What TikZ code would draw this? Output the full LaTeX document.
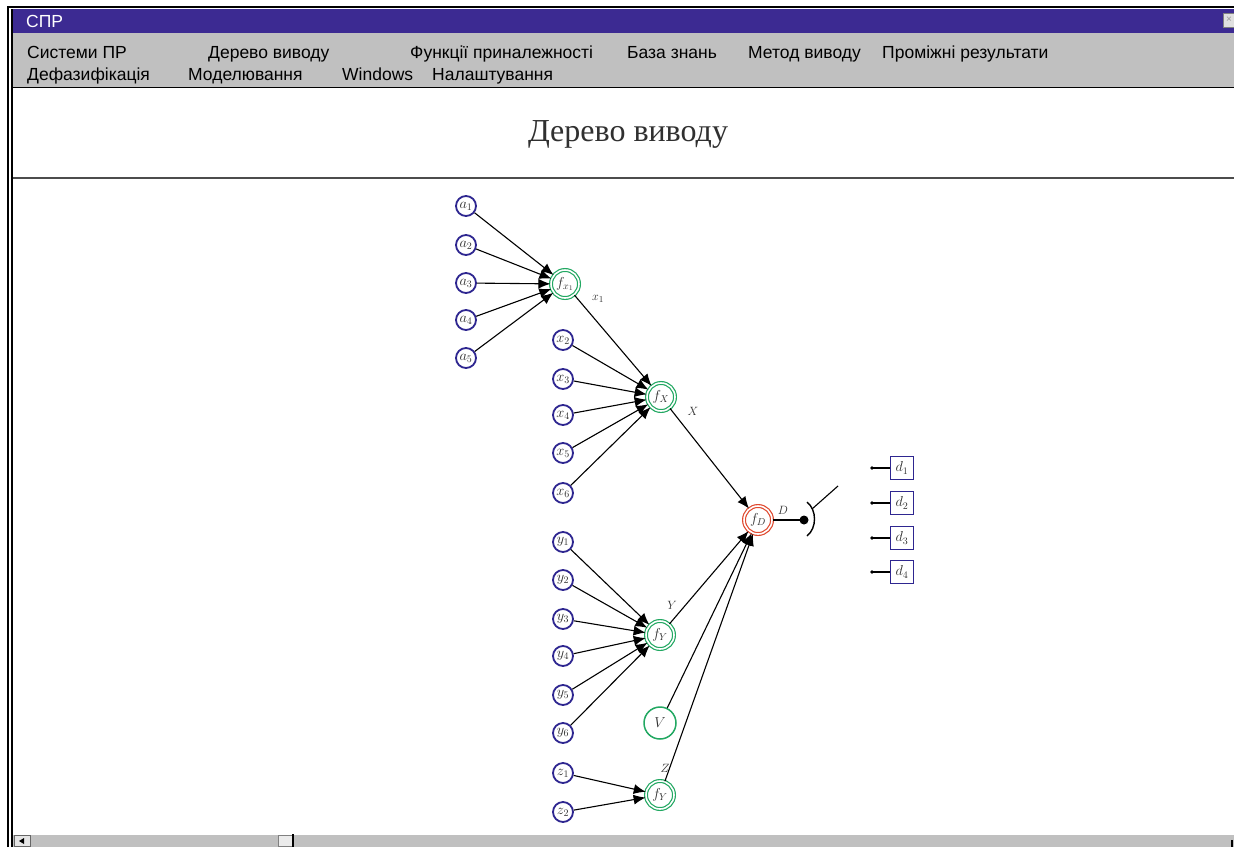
\documentclass[tikz,border=0pt]{standalone}
\usepackage{fontspec}
\setmainfont{Liberation Serif}
\newfontfamily\uisans{Liberation Sans}
\usetikzlibrary{arrows.meta}
\definecolor{nblue}{HTML}{2E2690}
\definecolor{ngreen}{HTML}{22A862}
\definecolor{nred}{HTML}{E04A30}
\definecolor{tbar}{HTML}{3C2A92}
\definecolor{mgray}{HTML}{C0C0C0}
\definecolor{ltext}{HTML}{303030}
\tikzset{
  inp/.style={circle, draw=nblue, line width=1.8pt, minimum size=20pt, inner sep=0pt, text=ltext, font=\fontsize{14}{14}\selectfont},
  fgreen/.style={circle, draw=ngreen, double=white, double distance=1.6pt, line width=1.2pt, minimum size=28pt, inner sep=0pt, text=ltext, font=\fontsize{14}{14}\selectfont},
  fred/.style={fgreen, draw=nred},
  single/.style={circle, draw=ngreen, line width=1.5pt, minimum size=32pt, inner sep=0pt, text=ltext, font=\fontsize{14}{14}\selectfont},
  dbox/.style={draw=nblue, line width=1.8pt, minimum size=23pt, inner sep=0pt, text=ltext, font=\fontsize{14}{14}\selectfont},
  arr/.style={-{Latex[length=12pt,width=10pt]}, line width=1.1pt},
  lbl/.style={font=\fontsize{13}{13}\selectfont, inner sep=0pt, text=ltext},
  menu/.style={font=\uisans\fontsize{17.5}{17.5}\selectfont, anchor=base west, inner sep=0pt},
}
\begin{document}
\begin{tikzpicture}[x=1pt,y=-1pt]
\useasboundingbox (0,0) rectangle (1234,847);
\fill[white] (0,0) rectangle (1234,847);
% window chrome
\fill[tbar] (11,9) rectangle (1234,33);
\fill[mgray] (11,33) rectangle (1234,87);
\draw[line width=1.6pt] (11,87.5) -- (1234,87.5);
\draw[line width=1.2pt,black!70] (11,178) -- (1234,178);
\draw[line width=1.2pt] (8,847) -- (8,7) -- (1234,7);
\draw[line width=1.2pt] (12,847) -- (12,9);
\node[anchor=base west, inner sep=0pt, text=white, font=\uisans\fontsize{17.5}{17.5}\selectfont] (ttl) at (26,27) {СПР};
\node[draw=black!50, fill=black!12, minimum width=12pt, minimum height=14pt, inner sep=0pt, font=\uisans\fontsize{10}{10}\selectfont, text=black!40] (cls) at (1229,20) {×};
% menu
\node[menu] (m1) at (27,58) {Системи ПР};
\node[menu] (m2) at (208,58) {Дерево виводу};
\node[menu] (m3) at (410,58) {Функції приналежності};
\node[menu] (m4) at (627,58) {База знань};
\node[menu] (m5) at (748,58) {Метод виводу};
\node[menu] (m6) at (882,58) {Проміжні результати};
\node[menu] (m7) at (27,80) {Дефазифікація};
\node[menu] (m8) at (188,80) {Моделювання};
\node[menu] (m9) at (342,80) {Windows};
\node[menu] (m10) at (432,80) {Налаштування};
% header title
\node[font=\fontsize{32}{32}\selectfont, text=ltext] (head) at (628,134) {Дерево виводу};
% scrollbar
\fill[mgray] (13,834) rectangle (1234,847);
\draw[white, line width=1pt] (13,834) -- (1234,834);
\node[draw=black!60, fill=black!10, minimum width=16pt, minimum height=11pt, inner sep=0pt] (sbl) at (22,841) {};
\fill[black] (19,841) -- (24,838) -- (24,844) -- cycle;
\node[draw=black!50, fill=black!8, minimum width=14pt, minimum height=11pt, inner sep=0pt] (thumb) at (285,841) {};
\draw[line width=1.2pt] (293,834) -- (293,847);
\draw[line width=1.2pt] (1232,840) -- (1232,847);
% input nodes a
\node[inp] (a1) at (466,206) {$a_1$};
\node[inp] (a2) at (466,245) {$a_2$};
\node[inp] (a3) at (466,283) {$a_3$};
\node[inp] (a4) at (466,320) {$a_4$};
\node[inp] (a5) at (466,358) {$a_5$};
\node[fgreen] (fx1) at (565,284) {$f_{x_1}$};
\foreach \n in {a1,a2,a3,a4,a5} \draw[arr] (\n) -- (fx1);
% x nodes
\node[inp] (x2) at (563,340) {$x_2$};
\node[inp] (x3) at (563,379) {$x_3$};
\node[inp] (x4) at (563,415) {$x_4$};
\node[inp] (x5) at (563,453) {$x_5$};
\node[inp] (x6) at (563,493) {$x_6$};
\node[fgreen] (fX) at (661,397) {$f_X$};
\draw[arr] (fx1) -- (fX);
\foreach \n in {x2,x3,x4,x5,x6} \draw[arr] (\n) -- (fX);
\node[lbl] (lx1) at (598,299) {$x_1$};
\node[lbl] (lX) at (693,411) {$X$};
% fD
\node[fred] (fD) at (758,520) {$f_D$};
\draw[arr] (fX) -- (fD);
\node[lbl] (lD) at (783,510) {$D$};
% y nodes
\node[inp] (y1) at (563,542) {$y_1$};
\node[inp] (y2) at (563,580) {$y_2$};
\node[inp] (y3) at (563,619) {$y_3$};
\node[inp] (y4) at (563,656) {$y_4$};
\node[inp] (y5) at (563,695) {$y_5$};
\node[inp] (y6) at (563,733) {$y_6$};
\node[fgreen] (fY) at (660,635) {$f_Y$};
\foreach \n in {y1,y2,y3,y4,y5,y6} \draw[arr] (\n) -- (fY);
\node[lbl] (lY) at (672,605) {$Y$};
\node[single] (V) at (660,723) {$V$};
\node[inp] (z1) at (563,773) {$z_1$};
\node[inp] (z2) at (563,812) {$z_2$};
\node[fgreen] (fY2) at (660,795) {$f_Y$};
\foreach \n in {z1,z2} \draw[arr] (\n) -- (fY2);
\node[lbl] (lZ) at (665,768) {$Z$};
\draw[arr] (fY) -- (fD);
\draw[arr] (V) -- (fD);
\draw[arr] (fY2) -- (fD);
% switch
\coordinate (sw) at (804,520);
\draw[line width=1.1pt] (fD) -- (sw);
\fill (sw) circle (4.5pt);
\draw[line width=1.4pt] (807,502) .. controls (817,510) and (817,528) .. (807,536);
\coordinate (swa) at (812,509);
\coordinate (swb) at (838,486);
\draw[line width=1.1pt] (swa) -- (swb);
% outputs d
\foreach \i/\yy in {1/468,2/503,3/538,4/572}{
  \node[dbox] (d\i) at (902,\yy) {$d_\i$};
  \coordinate (dl\i) at (872,\yy);
  \draw[line width=1.4pt] (dl\i) -- (d\i);
  \fill (dl\i) circle (1.8pt);
}
\end{tikzpicture}
\end{document}
